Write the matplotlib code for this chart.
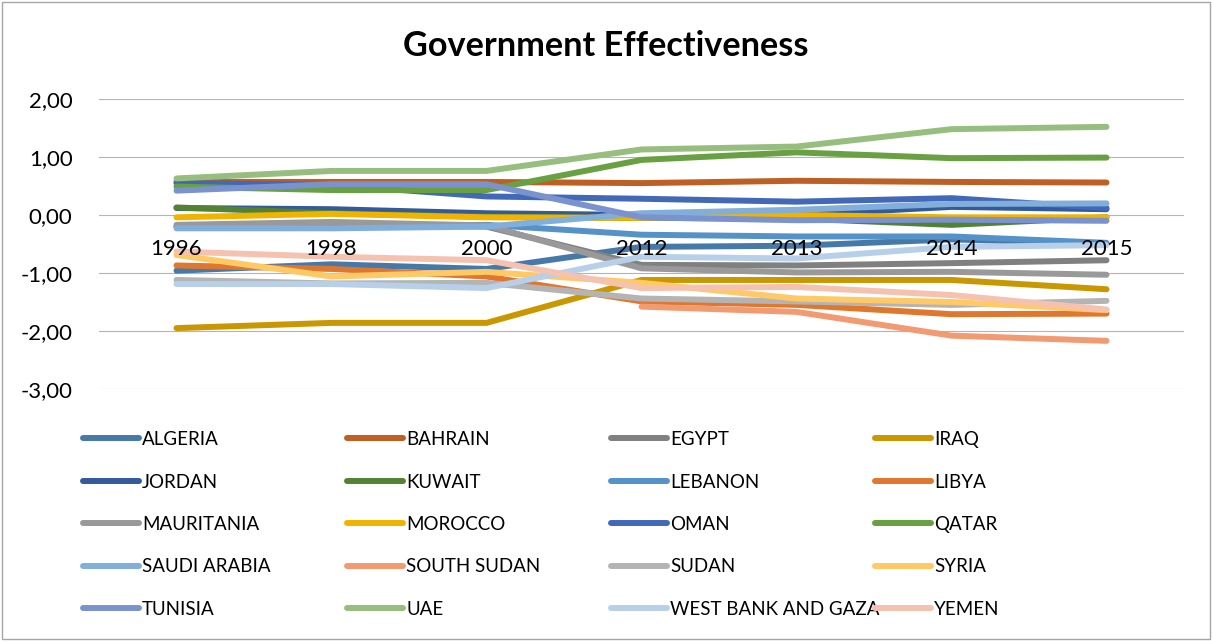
import matplotlib.pyplot as plt
import numpy as np
from matplotlib.ticker import FuncFormatter
from matplotlib.patches import Rectangle

plt.rcParams['font.family'] = ['Lato', 'DejaVu Sans']

#----------Datos------------------------------#
years = ['1996', '1998', '2000', '2012', '2013', '2014', '2015']
countries = ['ALGERIA', 'BAHRAIN', 'EGYPT', 'IRAQ',
             'JORDAN', 'KUWAIT', 'LEBANON', 'LIBYA',
             'MAURITANIA', 'MOROCCO', 'OMAN', 'QATAR',
             'SAUDI ARABIA', 'SOUTH SUDAN', 'SUDAN', 'SYRIA',
             'TUNISIA', 'UAE', 'WEST BANK AND GAZA', 'YEMEN']

algeria = [-0.96, -0.85, -0.93, -0.55, -0.53, -0.42, -0.50]
bahrain = [0.57, 0.57, 0.57, 0.55, 0.59, 0.57, 0.56]
egypt = [-0.20, -0.15, -0.20, -0.86, -0.87, -0.83, -0.78]
iraq = [-1.95, -1.86, -1.86, -1.12, -1.12, -1.12, -1.28]
jordan = [0.12, 0.10, 0.03, 0.00, 0.00, 0.14, 0.10]
kuwait = [0.13, 0.03, -0.03, -0.05, -0.06, -0.17, -0.04]
lebanon = [-0.20, -0.20, -0.17, -0.34, -0.37, -0.37, -0.48]
libya = [-0.87, -0.93, -1.06, -1.49, -1.55, -1.71, -1.70]
mauritania = [-0.17, -0.12, -0.18, -0.92, -0.99, -0.98, -1.03]
morocco = [-0.04, 0.02, -0.04, -0.05, 0.00, -0.04, -0.04]
oman = [0.55, 0.52, 0.32, 0.28, 0.23, 0.29, 0.12]
qatar = [0.49, 0.43, 0.43, 0.95, 1.08, 0.98, 0.99]
saudi = [-0.23, -0.23, -0.20, 0.03, 0.09, 0.19, 0.20]
south_sudan = [np.nan, np.nan, np.nan, -1.58, -1.67, -2.08, -2.17]
sudan = [-1.12, -1.18, -1.17, -1.44, -1.49, -1.55, -1.48]
syria = [-0.69, -1.06, -0.98, -1.17, -1.44, -1.50, -1.64]
tunisia = [0.42, 0.53, 0.53, -0.04, -0.09, -0.08, -0.10]
uae = [0.63, 0.76, 0.76, 1.13, 1.18, 1.48, 1.52]
wbg = [-1.19, -1.19, -1.26, -0.72, -0.75, -0.55, -0.52]
yemen = [-0.63, -0.72, -0.78, -1.26, -1.24, -1.38, -1.63]

series = [algeria, bahrain, egypt, iraq, jordan, kuwait, lebanon, libya,
          mauritania, morocco, oman, qatar, saudi, south_sudan, sudan, syria,
          tunisia, uae, wbg, yemen]
colores = ['#4679A8', '#BE5F24', '#808080', '#C99700',
           '#335A9A', '#548235', '#5592C8', '#E0772E',
           '#999999', '#F0B400', '#4169B8', '#68A042',
           '#82AEDC', '#F29B72', '#B4B4B4', '#FFC966',
           '#7A92CE', '#97BE7E', '#B8CFEA', '#F5C2B0']

fig = plt.figure(figsize=(12.12, 6.41), dpi=100)
ax = fig.add_axes([99/1212, 1-389/641, (1184-99)/1212, (389-99)/641])

yticks = [-3, -2, -1, 0, 1, 2]
# rejilla por debajo de las lineas, etiquetas por encima
for yv in yticks:
    ax.axhline(yv, color='#B4B4B4', lw=0.8, zorder=0.5)

x = np.arange(len(years))
lineas = []
for nombre, vals, c in zip(countries, series, colores):
    l, = ax.plot(x, vals, color=c, lw=4.3, label=nombre,
                 solid_capstyle='round', solid_joinstyle='round')
    lineas.append(l)

ax.set_xlim(-0.5, len(years)-0.5)
ax.set_ylim(-3, 2)
ax.set_yticks(yticks)
ax.yaxis.set_major_formatter(FuncFormatter(lambda v, p: ('%.2f' % v).replace('.', ',')))
ax.set_xticks(x)
ax.set_xticklabels(years)
ax.set_axisbelow(False)
for s in ['left', 'right', 'top', 'bottom']:
    ax.spines[s].set_visible(False)
ax.spines['bottom'].set_position(('data', 0))
ax.tick_params(axis='both', length=0, labelsize=16, colors='black')
ax.tick_params(axis='y', pad=19)
ax.tick_params(axis='x', pad=17.5)

fig.text(606/1212, 1-46/641, 'Government Effectiveness', ha='center', va='center',
         fontsize=24.7, fontweight='bold')

# Leyenda: 4 columnas de igual ancho
col_x = [83, 347, 611, 875]
for i, cx in enumerate(col_x):
    fig.legend(handles=lineas[i::4], loc='upper left',
               bbox_to_anchor=(cx/1212, 1-431/641), frameon=False,
               fontsize=13.5, handlelength=3.0, handletextpad=0.15,
               labelspacing=1.36, borderpad=0, borderaxespad=0)

fig.patches.append(Rectangle((0.002, 0.003), 0.996, 0.994, transform=fig.transFigure,
                             fill=False, edgecolor='#A6A6A6', lw=1))

plt.savefig('out.png', dpi=100)
plt.close()
